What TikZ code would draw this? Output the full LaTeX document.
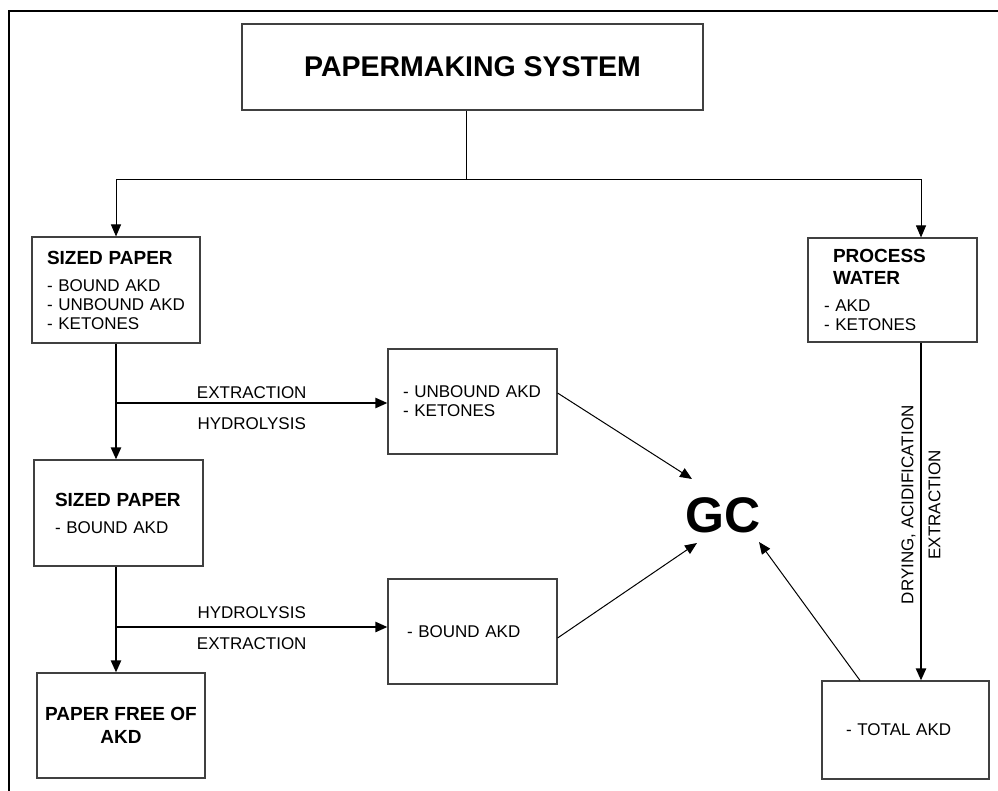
\documentclass[tikz,border=0pt]{standalone}
\usepackage{fontspec}
\setmainfont{Liberation Sans}
\usetikzlibrary{arrows.meta}
\newcommand{\hd}{\fontsize{19}{22}\selectfont\bfseries}
\tikzset{
  box/.style={rectangle,draw=black!75,line width=1.1pt,inner ysep=0pt,align=left,font=\fontsize{17}{19}\selectfont},
  flow/.style={-{Triangle[length=12pt,width=10pt]},line width=2.2pt},
  link/.style={-{Triangle[length=12pt,width=10pt]},line width=1pt},
  lbl/.style={font=\fontsize{17}{19}\selectfont,inner sep=2pt}
}
\begin{document}
\begin{tikzpicture}[x=1pt,y=-1pt]
    \useasboundingbox (0,0) rectangle (998,791);
    \draw[line width=2pt] (9,791) -- (9,11) -- (998,11);

    \node[box,align=center,minimum width=461pt,minimum height=86pt,font=\fontsize{28.5}{32}\selectfont\bfseries] (sys) at (472.5,67) {PAPERMAKING SYSTEM};
    \node[box,text width=138pt,inner xsep=15pt,minimum height=106pt] (sp1) at (116,290) {{\hd SIZED PAPER}\\[8pt]- BOUND AKD\\- UNBOUND AKD\\- KETONES};
    \node[box,text width=127pt,inner xsep=21pt,minimum height=106pt] (sp2) at (118.5,513) {{\hd SIZED PAPER}\\[8pt]- BOUND AKD\par\vspace{12pt}};
    \node[box,align=center,minimum width=168pt,minimum height=105pt,font=\hd] (free) at (121,725.5) {PAPER FREE OF\\[1pt]AKD};
    \node[box,text width=139pt,inner xsep=15pt,minimum height=105pt] (unb) at (472.5,401.5) {- UNBOUND AKD\\- KETONES};
    \node[box,text width=131pt,inner xsep=19pt,minimum height=105pt] (bnd) at (472.5,631.5) {- BOUND AKD};
    \node[box,text width=137pt,inner xsep=16pt,minimum height=104pt] (pw) at (892.5,290) {{\hd\hspace*{9pt}PROCESS\\[3pt]\hspace*{9pt}WATER}\\[8pt]- AKD\\- KETONES};
    \node[box,text width=119pt,inner xsep=24pt,minimum height=98pt] (tot) at (905.5,730) {- TOTAL AKD};
    \node[font=\fontsize{50}{55}\selectfont\bfseries,inner sep=0pt] (gc) at (723,515.5) {GC};

    \coordinate (split) at (466,180);
    \coordinate (wx) at (921,180);
    \coordinate (b1) at (116,403);
    \coordinate (b2) at (116,627);

    \draw[line width=1pt] (split |- sys.south) -- (split);
    \draw[link] (split) -| (sp1.north);
    \draw[link] (split) -- (wx) -- (wx |- pw.north);

    \draw[flow] (b1 |- sp1.south) -- (b1 |- sp2.north);
    \draw[flow] (b1) -- (b1 -| unb.west) node[lbl,midway,above=1pt] {EXTRACTION} node[lbl,midway,below=12pt] {HYDROLYSIS};
    \draw[flow] (b2 |- sp2.south) -- (b2 |- free.north);
    \draw[flow] (b2) -- (b2 -| bnd.west) node[lbl,midway,above=5pt] {HYDROLYSIS} node[lbl,midway,below=8pt] {EXTRACTION};
    \draw[flow] (wx |- pw.south) -- (wx |- tot.north) node[lbl,pos=0.48,rotate=90,align=center] {DRYING, ACIDIFICATION\\[8pt]EXTRACTION};

    \draw[link] ([yshift=8.5pt]unb.east) -- ([xshift=-31pt,yshift=36.5pt]gc.center);
    \draw[link] ([yshift=-6.5pt]bnd.east) -- ([xshift=-26pt,yshift=-27.5pt]gc.center);
    \draw[link] ([xshift=-45.5pt]tot.north) -- ([xshift=36pt,yshift=-26.5pt]gc.center);
\end{tikzpicture}
\end{document}
